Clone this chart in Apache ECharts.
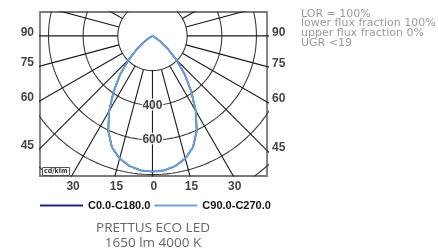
<!DOCTYPE html>
<html><head><meta charset="utf-8">
<script src="https://cdn.jsdelivr.net/npm/echarts/dist/echarts.min.js"></script>
<style>html,body{margin:0;padding:0;background:#fff}#c{width:438px;height:248px}</style>
</head><body><div id="c"></div>
<script>
// ---- data ----
const gammaDeg    = [0,5,10,15,20,25,30,35,40,45,50,55,60,65,70,75,80,85,90,105,120,135,150,165,180];
const intensityC0  = [783,778,762,732,684,604,500,390,290,195,115,55,20,5,0,0,0,0,0,0,0,0,0,0,0];
const intensityC90 = [783,778,762,732,684,604,500,390,290,195,115,55,20,5,0,0,0,0,0,0,0,0,0,0,0];
const ringValues = [200,400,600,800,1000];
const ringLabelValues = [400,600];
const spokeAngles = [0,15,30,45,60,75,90,105,120,135,150,165,180,195,210,225,240,255,270,285,300,315,330,345];
const sideTickAngles = [90,75,60,45];
const bottomTickAngles = [-30,-15,0,15,30];
const legendNames = ['C0.0-C180.0','C90.0-C270.0'];
const unitLabel = 'cd/klm';
const infoLines = ['LOR = 100%','lower flux fraction 100%','upper flux fraction 0%','UGR <19'];
const titleLines = ['PRETTUS ECO LED','1650 lm 4000 K'];

// ---- view ----
const X_MIN = -649, X_MAX = 661, Y_MIN = -808, Y_MAX = 138;
const BOLD = "'Liberation Sans Narrow','Liberation Sans',Arial,sans-serif";
const DEG = Math.PI / 180;
function pt(r, a) { return [r * Math.sin(a * DEG), -r * Math.cos(a * DEG)]; }
function curve(vals) {
  const left = [], right = [];
  for (let i = gammaDeg.length - 1; i >= 0; i--) left.push(pt(vals[i], -gammaDeg[i]));
  for (let i = 0; i < gammaDeg.length; i++) right.push(pt(vals[i], gammaDeg[i]));
  return left.concat(right);
}
const series = [];
ringValues.forEach(function (rv) {
  const d = [];
  for (let a = 0; a <= 360; a += 2) d.push(pt(rv, a));
  series.push({ type: 'line', data: d, symbol: 'none', clip: true, silent: true,
    lineStyle: { color: '#3a3a3a', width: 1.1 }, z: 1 });
});
spokeAngles.forEach(function (a) {
  series.push({ type: 'line', data: [pt(ringValues[0], a), pt(1600, a)], symbol: 'none', clip: true, silent: true,
    lineStyle: { color: '#1a1a1a', width: 1.1 }, z: 1 });
});
series.push({ name: legendNames[0], type: 'line', data: curve(intensityC0), symbol: 'none', clip: true,
  lineStyle: { color: '#1f2a7a', width: 1.8 }, itemStyle: { color: '#1f2a7a' }, z: 3 });
series.push({ name: legendNames[1], type: 'line', data: curve(intensityC90), symbol: 'none', clip: true,
  lineStyle: { color: '#6fa2da', width: 1.8 }, itemStyle: { color: '#6fa2da' }, z: 4 });
// ring value labels
series.push({ type: 'scatter', symbolSize: 0, clip: false, silent: true, z: 5,
  data: ringLabelValues.map(function (v) { return { value: pt(v, 0), name: String(v) }; }),
  label: { show: true, position: 'inside', formatter: '{b}', fontFamily: BOLD, fontWeight: 'bold',
    fontSize: 12, color: '#111', textBorderColor: '#fff', textBorderWidth: 3 } });
// side angle labels
function sideY(L, a) { return -L * Math.cos(a * DEG) / Math.sin(a * DEG); }
const tickLabelStyle = { show: true, formatter: '{b}', fontFamily: BOLD, fontWeight: 'bold', fontSize: 12, color: '#111' };
series.push({ type: 'scatter', symbolSize: 0, clip: false, silent: true, z: 5,
  data: sideTickAngles.map(function (a) { return { value: [X_MIN, sideY(-X_MIN, a)], name: String(a) }; }),
  label: Object.assign({ position: 'left', distance: 6, offset: [0, -3] }, tickLabelStyle) });
series.push({ type: 'scatter', symbolSize: 0, clip: false, silent: true, z: 5,
  data: sideTickAngles.map(function (a) { return { value: [X_MAX, sideY(X_MAX, a)], name: String(a) }; }),
  label: Object.assign({ position: 'right', distance: 5, offset: [0, -3] }, tickLabelStyle) });
series.push({ type: 'scatter', symbolSize: 0, clip: false, silent: true, z: 5,
  data: bottomTickAngles.map(function (a) { return { value: [-Y_MIN * Math.tan(a * DEG), Y_MIN], name: String(Math.abs(a)) }; }),
  label: Object.assign({ position: 'bottom', distance: 5, offset: [1.5, 0] }, tickLabelStyle) });

const chart = echarts.init(document.getElementById('c'), null, { renderer: 'canvas' });
chart.setOption({
  animation: false,
  grid: { left: 40, right: 438 - 267, top: 12, bottom: 248 - 176, show: true, borderColor: '#7a7a7a', borderWidth: 1.8, backgroundColor: 'transparent' },
  xAxis: { type: 'value', min: X_MIN, max: X_MAX, show: false },
  yAxis: { type: 'value', min: Y_MIN, max: Y_MAX, show: false },
  legend: { data: legendNames, left: 35, top: 195, icon: 'rect', itemWidth: 43, itemHeight: 2, itemGap: 4,
    textStyle: { fontFamily: BOLD, fontWeight: 'bold', fontSize: 11, color: '#111' } },
  graphic: [
    { type: 'rect', left: 42, top: 167, z: 10, shape: { width: 27, height: 8 }, style: { fill: '#fff', stroke: '#555', lineWidth: 1 } },
    { type: 'text', left: 44, top: 167.5, z: 11, style: { text: unitLabel, font: "bold 7px 'DejaVu Sans Condensed',sans-serif", fill: '#333' } },
    { type: 'text', left: 301, top: 8.5, z: 10, style: { text: infoLines.join('\n'), font: "11px 'DejaVu Sans',sans-serif", lineHeight: 9.6, fill: '#9a9a9a' } },
    { type: 'text', x: 153, y: 220.5, z: 10, style: { text: titleLines.join('\n'), font: "13.5px 'Open Sans',sans-serif", lineHeight: 15, fill: '#666', align: 'center', verticalAlign: 'top' } }
  ],
  series: series
});
</script></body></html>
